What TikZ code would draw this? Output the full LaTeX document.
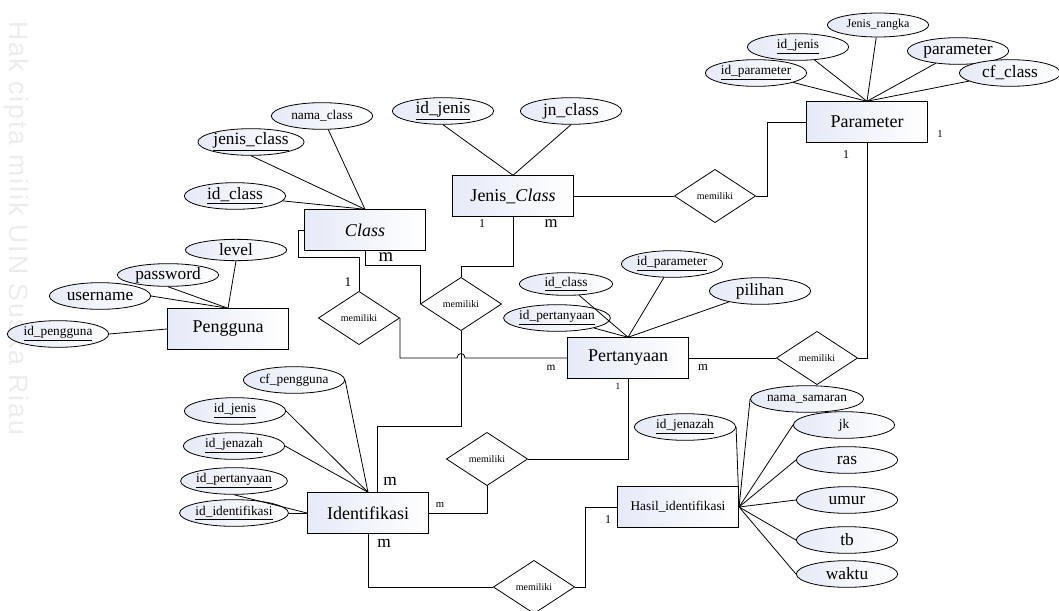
\documentclass[tikz,border=0pt]{standalone}
\usepackage{fontspec}
\setmainfont{Liberation Serif}
\newfontfamily\wmfont[LetterSpace=7]{Liberation Sans}
\usetikzlibrary{shapes.geometric}
\definecolor{attrfill}{RGB}{230,234,247}
\newcommand{\fsz}[1]{\fontsize{#1}{#1}\selectfont}

\begin{document}
\begin{tikzpicture}[x=0.75pt, y=-0.75pt, line width=0.6pt,
	entity/.style={draw, rectangle, minimum width=91pt, minimum height=30.5pt, inner sep=0pt, left color=attrfill, right color=white, font=\fsz{13.5}},
	attr/.style={draw, ellipse, minimum width=76pt, minimum height=20pt, inner sep=0pt, left color=attrfill, right color=white, font=\fsz{10}},
	bigattr/.style={attr, font=\fsz{13}},
	relation/.style={draw, diamond, minimum width=61pt, minimum height=40pt, inner sep=0pt, fill=white, font=\fsz{7.5}},
	card/.style={inner sep=0pt, font=\fsz{10}},
	watermark/.style={rotate=-90, text=gray!15, font=\wmfont\fsz{20}}]
	\useasboundingbox (0,0) rectangle (1059,610);
	\clip (0,0) rectangle (1059,610);

	\node[watermark] (wm) at (16,228) {Hak cipta milik UIN Suska Riau};

	\node[entity] (cls) at (365,230) {\textit{Class}};
	\node[entity] (jcls) at (513,196) {Jenis\_\textit{Class}};
	\node[entity] (param) at (867,122) {Parameter};
	\node[entity] (pert) at (628,358) {Pertanyaan};
	\node[entity] (peng) at (228,329) {Pengguna};
	\node[entity] (iden) at (368,513) {Identifikasi};
	\node[entity, font=\fsz{10}] (hasil) at (678,507) {Hasil\_identifikasi};

	\node[relation] (rCls) at (359,318) {memiliki};
	\node[relation] (rJenis) at (461,304) {memiliki};
	\node[relation] (rParam) at (715,196) {memiliki};
	\node[relation] (rPert) at (817,358) {memiliki};
	\node[relation] (rIden) at (487,459) {memiliki};
	\node[relation] (rHasil) at (534,587) {memiliki};

	\node[attr] (clsNama) at (322,116) {nama\_class};
	\node[bigattr] (clsJenis) at (251,142) {\underline{jenis\_class}};
	\node[bigattr] (clsId) at (235,196) {\underline{id\_class}};
	\node[bigattr] (jcId) at (443,111) {\underline{id\_jenis}};
	\node[bigattr] (jcJn) at (571,111) {jn\_class};

	\node[attr, font=\fsz{9}, minimum height=18pt] (prRangka) at (878,25) {Jenis\_rangka};
	\node[attr] (prIdj) at (798,47) {\underline{id\_jenis}};
	\node[bigattr] (prPar) at (958,51) {parameter};
	\node[attr] (prIdp) at (756,73) {\underline{id\_parameter}};
	\node[bigattr] (prCf) at (1010,73) {cf\_class};

	\node[attr, minimum width=70pt, minimum height=17pt] (ptIdc) at (566,284) {\underline{id\_class}};
	\node[attr] (ptIdp) at (557,318) {\underline{id\_pertanyaan}};
	\node[attr] (ptIdpar) at (672,264) {\underline{id\_parameter}};
	\node[bigattr] (ptPilih) at (760,291) {pilihan};

	\node[bigattr, minimum height=16pt] (pgLevel) at (236,250) {level};
	\node[bigattr, minimum height=17pt] (pgPass) at (168,275) {password};
	\node[bigattr] (pgUser) at (100,296) {username};
	\node[attr] (pgId) at (58,334) {\underline{id\_pengguna}};

	\node[attr] (idCf) at (294,380) {cf\_pengguna};
	\node[attr] (idJenis) at (235,411) {\underline{id\_jenis}};
	\node[attr] (idJenazah) at (234,446) {\underline{id\_jenazah}};
	\node[attr] (idPert) at (234,481) {\underline{id\_pertanyaan}};
	\node[attr] (idIdent) at (234,513) {\underline{id\_identifikasi}};

	\node[attr] (hsNama) at (807,399) {nama\_samaran};
	\node[attr] (hsJenazah) at (685,427) {\underline{id\_jenazah}};
	\node[attr] (hsJk) at (844,425) {jk};
	\node[bigattr] (hsRas) at (847,460) {ras};
	\node[bigattr] (hsUmur) at (847,500) {umur};
	\node[bigattr] (hsTb) at (847,540) {tb};
	\node[bigattr] (hsWaktu) at (847,574) {waktu};

	\node[card] (cClsL) at (348,282) {1};
	\node[card, font=\fsz{14}] (cClsB) at (386,257) {m};
	\node[card, font=\fsz{9}] (cJcL) at (482,224) {1};
	\node[card, font=\fsz{12.5}] (cJcR) at (551,224) {m};
	\node[card, font=\fsz{8}] (cParR) at (940,134) {1};
	\node[card, font=\fsz{9}] (cParB) at (846,155) {1};
	\node[card, font=\fsz{8.5}] (cPtL) at (551,368) {m};
	\node[card, font=\fsz{9.5}] (cPtR) at (703,368) {m};
	\node[card, font=\fsz{7}] (cPtB) at (618,386) {1};
	\node[card, font=\fsz{13}] (cIdT) at (390,481) {m};
	\node[card, font=\fsz{13}] (cIdB) at (384,543) {m};
	\node[card, font=\fsz{8}] (cIdR) at (440,505) {m};
	\node[card, font=\fsz{9}] (cHs) at (608,520) {1};

	\draw (clsNama) -- (cls.north);
	\draw (clsJenis.south) -- (cls.north);
	\draw (clsId) -- (cls.north);
	\draw (jcId.south) -- (jcls.north);
	\draw (jcJn.south) -- (jcls.north);
	\foreach \a in {prRangka, prIdj, prPar, prIdp, prCf}
		\draw (\a) -- (param.north);
	\foreach \a in {ptIdc, ptIdp, ptIdpar, ptPilih}
		\draw (\a) -- (pert.north);
	\draw (pgLevel.south) -- (peng.north);
	\draw (pgPass.south) -- (peng.north);
	\draw (pgUser.east) -- (peng.north);
	\draw (pgId.east) -- (peng.west);
	\draw (idCf.east) -- (iden.north);
	\draw (idJenis.east) -- (iden.north);
	\draw (idJenazah.east) -- (iden.north);
	\draw (idPert.south) -- (iden.west);
	\draw (idIdent.east) -- (iden.west);
	\draw (hsJenazah.east) -- (hasil.east);
	\foreach \a in {hsNama, hsJk, hsRas, hsUmur, hsTb, hsWaktu}
		\draw (\a.west) -- (hasil.east);

	\coordinate (hopL) at (457,358);
	\coordinate (hopR) at (465,358);
	\draw (cls.west) -- ++(-6,0) -- ++(0,27) -| (rCls.north);
	\draw (rCls.east) |- (hopL) .. controls +(0,-6) and +(0,-6) .. (hopR) -- (pert.west);
	\draw (cls.south) -- ++(0,15) -| (rJenis.west);
	\draw (jcls.south) -- ++(0,50) -| (rJenis.north);
	\draw (rJenis.south) -- ++(0,95) -| ([xshift=6.75pt]iden.north);
	\draw (jcls.east) -- (rParam.west);
	\draw (rParam.east) -- ++(11,0) |- (param.west);
	\draw (param.south) |- (rPert.east);
	\draw (rPert.west) -- (pert.east);
	\draw (pert.south) |- (rIden.east);
	\draw (rIden.south) |- (iden.east);
	\draw (iden.south) |- (rHasil.west);
	\draw (rHasil.east) -- ++(10,0) |- (hasil.west);

\end{tikzpicture}
\end{document}
